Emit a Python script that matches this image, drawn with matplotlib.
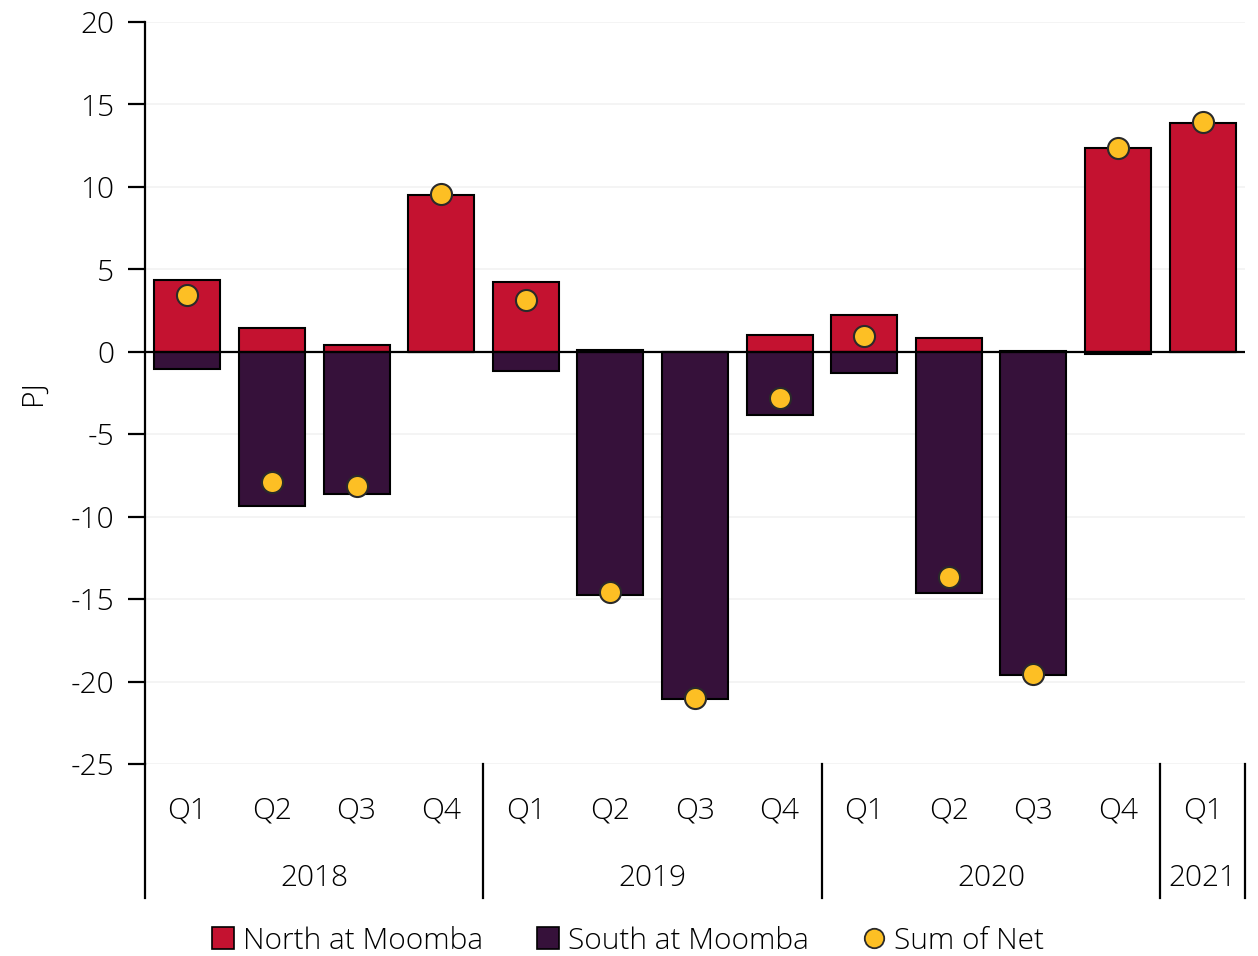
import matplotlib
matplotlib.use("Agg")
import matplotlib.pyplot as plt
import matplotlib.transforms as mtransforms
from matplotlib.lines import Line2D
from matplotlib.patches import Patch
import numpy as np

plt.rcParams['font.family'] = ['Open Sans', 'DejaVu Sans']
FS = 21.5

quarters = ["Q1", "Q2", "Q3", "Q4", "Q1", "Q2", "Q3", "Q4", "Q1", "Q2", "Q3", "Q4", "Q1"]
years = ["2018", "2019", "2020", "2021"]
year_counts = [4, 4, 4, 1]
north = [4.37, 1.46, 0.42, 9.52, 4.24, 0.12, 0.0, 1.03, 2.24, 0.85, 0.05, 12.37, 13.89]
south = [-1.03, -9.34, -8.61, 0.0, -1.15, -14.74, -21.04, -3.82, -1.27, -14.62, -19.59, -0.12, 0.0]
net = [3.46, -7.88, -8.13, 9.58, 3.15, -14.55, -20.98, -2.79, 0.97, -13.64, -19.53, 12.37, 13.95]

c_north = "#C41230"
c_south = "#36113A"
c_net = "#FDBF24"

W, H = 1258, 956
fig = plt.figure(figsize=(W / 100, H / 100), dpi=100)
ax = fig.add_axes([145 / W, 1 - 764 / H, 1100 / W, (764 - 22) / H])

x = np.arange(len(quarters))
ax.bar(x, north, width=0.78, color=c_north, edgecolor="black", linewidth=1.5, zorder=3)
ax.bar(x, south, width=0.78, color=c_south, edgecolor="black", linewidth=1.5, zorder=3)
ax.axhline(0, color="black", linewidth=1.6, zorder=4)
ax.scatter(x, net, s=230, color=c_net, edgecolor="#2a2a2a", linewidth=1.5, zorder=5)

ax.set_xlim(-0.5, len(quarters) - 0.5)
ax.set_ylim(-25, 20)
ax.set_yticks(np.arange(-25, 21, 5))
ax.set_yticklabels([str(v) for v in range(-25, 21, 5)])
ax.grid(axis="y", color="#f2f2f2", linewidth=1.2, zorder=0)
ax.set_axisbelow(True)

for s in ["top", "right", "bottom"]:
    ax.spines[s].set_visible(False)
ax.spines["left"].set_linewidth(1.6)
ax.tick_params(axis="y", direction="out", length=12, width=1.6, labelsize=FS, pad=10, colors="black")
for lab in ax.get_yticklabels():
    lab.set_fontweight("light")
ax.set_ylabel("PJ", fontsize=FS, fontweight="light")
ax.yaxis.set_label_coords(-0.088, 0.5)

ax.set_xticks([])
trans = mtransforms.blended_transform_factory(ax.transData, ax.transAxes)
axh_px = 764 - 22
q_y = -(811 - 764) / axh_px
yr_y = -(878 - 764) / axh_px
sep_bottom = -(898 - 764) / axh_px
for i, q in enumerate(quarters):
    ax.text(i, q_y, q, transform=trans, ha="center", va="center", fontsize=FS,
            fontweight="light", clip_on=False)
start = 0
bounds = [-0.5]
for yname, cnt in zip(years, year_counts):
    ax.text(start + (cnt - 1) / 2, yr_y, yname, transform=trans, ha="center", va="center",
            fontsize=FS, fontweight="light", clip_on=False)
    start += cnt
    bounds.append(start - 0.5)
for b in bounds:
    ax.add_line(Line2D([b, b], [0, sep_bottom], transform=trans, color="black", linewidth=1.6, clip_on=False))

handles = [
    Patch(facecolor=c_north, edgecolor="black", linewidth=1.2, label="North at Moomba"),
    Patch(facecolor=c_south, edgecolor="black", linewidth=1.2, label="South at Moomba"),
    Line2D([], [], marker="o", linestyle="none", markersize=14, markerfacecolor=c_net,
           markeredgecolor="#2a2a2a", markeredgewidth=1.3, label="Sum of Net"),
]
fig.legend(handles=handles, loc="center", bbox_to_anchor=(628 / W, 1 - 941 / H), ncol=3,
           frameon=False, prop={"size": FS, "weight": "light"}, handlelength=0.75,
           handleheight=0.75, handletextpad=0.3, columnspacing=1.8)

fig.savefig("out.png", dpi=100)
